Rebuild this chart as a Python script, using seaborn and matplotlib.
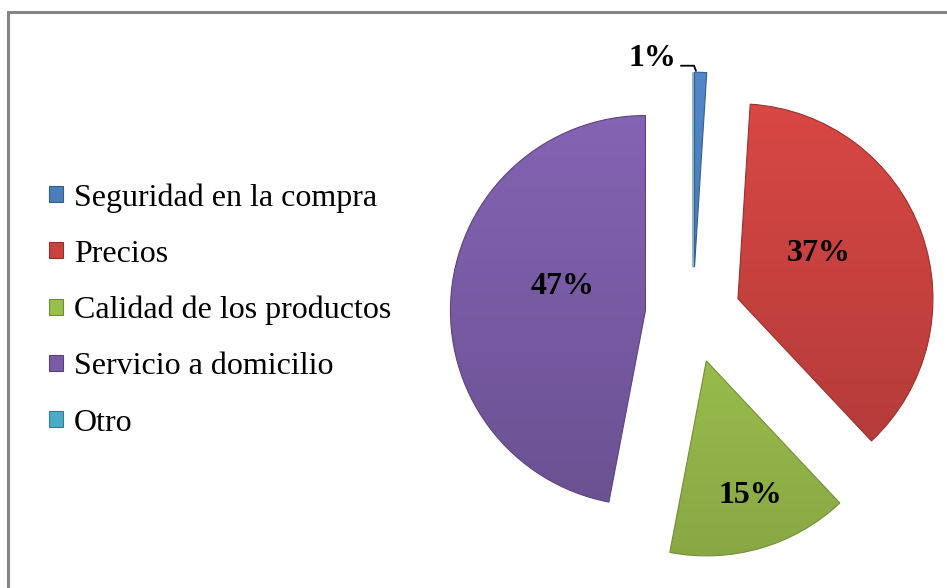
import numpy as np
import matplotlib
matplotlib.use("Agg")
import matplotlib.pyplot as plt
import seaborn as sns
from matplotlib.patches import Patch
from matplotlib.lines import Line2D
from matplotlib.colors import to_rgb

# Survey answers and their shares (%)
categories = ["Seguridad en la compra", "Precios", "Calidad de los productos",
              "Servicio a domicilio", "Otro"]
percentages = [1, 37, 15, 47, 0]
slice_colors = ["#4a7ebb", "#c8423f", "#9bbf4d", "#7a5ca6", "#4bacc6"]

sns.set_theme(style="white")
plt.rcParams["font.family"] = ["Liberation Serif", "DejaVu Serif"]
plt.rcParams["text.color"] = "black"

W, H = 947, 588
fig = plt.figure(figsize=(W / 100, H / 100), dpi=100)
fig.patch.set_facecolor("white")
ax = fig.add_axes([0, 0, 1, 1])

# pie centre and radius on the canvas, in pixels
cx_px, cy_px, r_px = 693, 315, 195
palette = sns.color_palette(slice_colors)

wedges, _ = ax.pie(percentages, colors=palette, startangle=90, counterclock=False,
                   explode=[0.245] * len(percentages), radius=1,
                   wedgeprops=dict(linewidth=0.8))

# soft vertical shading inside every slice
for w, col in zip(wedges, palette):
    c = np.array(to_rgb(col))
    w.set_facecolor("none")
    w.set_edgecolor(tuple(c * 0.75))
    w.set_zorder(3)
    if w.theta2 - w.theta1 <= 0:
        continue
    wx, wy = w.center
    t = np.linspace(1, 0, 256)[:, None]
    shade = 0.88 + 0.2 * t
    img = np.clip(c[None, None, :] * shade[..., None], 0, 1)
    im = ax.imshow(img, extent=[wx - w.r, wx + w.r, wy - w.r, wy + w.r],
                   origin="upper", aspect="auto", interpolation="bilinear", zorder=2)
    im.set_clip_path(w)

# value labels inside the large slices: (radial distance, angular nudge in degrees)
label_layout = {1: (0.472, 9.4), 2: (0.725, 1.8), 3: (0.441, -10.5)}
for i, (dist, rot) in label_layout.items():
    w = wedges[i]
    ang = np.deg2rad((w.theta1 + w.theta2) / 2 + rot)
    x = w.center[0] + dist * w.r * np.cos(ang)
    y = w.center[1] + dist * w.r * np.sin(ang)
    ax.text(x, y, f"{percentages[i]}%", ha="center", va="center",
            fontsize=23, fontweight="bold", color="black", zorder=5)

# the thin slice gets an outside label with an elbow leader line
w = wedges[0]
mid = np.deg2rad((w.theta1 + w.theta2) / 2)
tip = np.array([w.center[0] + w.r * np.cos(mid), w.center[1] + w.r * np.sin(mid)])
end = tip + np.array([-0.024, 0.008])
elbow = end + np.array([-0.010, 0.026])
start = elbow + np.array([-0.067, 0.0])
ax.plot([start[0], elbow[0], end[0]], [start[1], elbow[1], end[1]],
        color="black", lw=1.3, solid_joinstyle="miter", zorder=5)
ax.text(start[0] - 0.025, start[1] + 0.035, f"{percentages[0]}%", ha="right", va="center",
        fontsize=23, fontweight="bold", color="black", zorder=5)

ax.set_aspect("auto")
ax.set_xlim(-cx_px / r_px, (W - cx_px) / r_px)
ax.set_ylim(-(H - cy_px) / r_px, cy_px / r_px)
ax.axis("off")

# legend on the left
handles = [Patch(facecolor=c, edgecolor=tuple(np.array(to_rgb(c)) * 0.72), linewidth=0.8)
           for c in palette]
leg = fig.legend(handles, categories, loc="upper left", bbox_to_anchor=(49 / W, 1 - 183 / H),
                 bbox_transform=fig.transFigure, frameon=False, fontsize=23,
                 handlelength=0.43, handleheight=0.37, handletextpad=0.35,
                 labelspacing=0.85, borderpad=0, borderaxespad=0)
for txt in leg.get_texts():
    txt.set_color("black")

# chart-area frame (left and top edges visible)
fig.add_artist(Line2D([7.5 / W, 7.5 / W, 1.0], [0.0, 1 - 12 / H, 1 - 12 / H],
                      transform=fig.transFigure, color="#858585", lw=2.2,
                      solid_joinstyle="miter"))

fig.savefig("out.png", dpi=100, facecolor="white")
